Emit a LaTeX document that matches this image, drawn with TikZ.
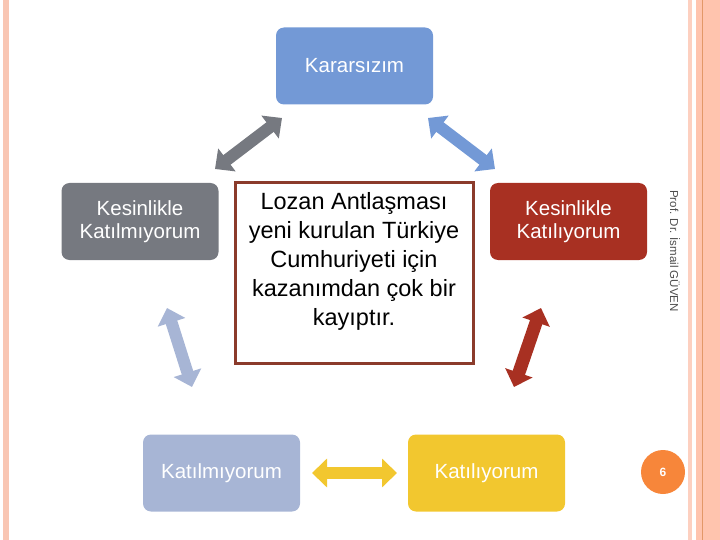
\documentclass[tikz,border=0pt]{standalone}
\usepackage{fontspec}
\setmainfont{Liberation Sans}
\usetikzlibrary{arrows.meta}
\definecolor{cblue}{HTML}{7399D6}
\definecolor{cgray}{HTML}{767980}
\definecolor{cred}{HTML}{A83022}
\definecolor{clblue}{HTML}{A7B5D5}
\definecolor{cyellow}{HTML}{F2C72F}
\definecolor{cframe}{HTML}{8B3B2B}
\definecolor{corange}{HTML}{F7863A}
\definecolor{pinkA}{HTML}{F9C6B3}
\definecolor{pinkB}{HTML}{FDD0C0}
\definecolor{pinkC}{HTML}{FFC4AE}
\definecolor{pinkLine}{HTML}{E39868}
\tikzset{
  box/.style={rounded corners=8pt, minimum width=157pt, minimum height=77pt, inner sep=0pt,
    align=center, text=white, font=\fontsize{20.5}{23.5}\selectfont},
  dbl/.style={line width=12pt, {Triangle[width=28pt,length=15pt]}-{Triangle[width=28pt,length=15pt]}},
}
\begin{document}
\begin{tikzpicture}[x=1pt,y=-1pt]
\useasboundingbox (0,0) rectangle (720,540);
% page decorations
\fill[pinkA] (3,0) rectangle (9,540);
\fill[pinkB] (688,0) rectangle (692,540);
\fill[pinkC] (696,0) rectangle (720,540);
\fill[pinkLine] (702,0) rectangle (703,540);
% boxes
\node[box, fill=cblue] (kar) at (354.5,66) {Kararsızım};
\node[box, fill=cgray] (kkm) at (140,221.5) {Kesinlikle\\Katılmıyorum};
\node[box, fill=cred] (kk) at (568.5,221.5) {Kesinlikle\\Katılıyorum};
\node[box, fill=clblue] (km) at (221.5,473) {Katılmıyorum};
\node[box, fill=cyellow] (ka) at (486.5,473) {Katılıyorum};
\node[draw=cframe, line width=3pt, fill=white, minimum width=238pt, minimum height=180pt,
  inner sep=0pt, align=center] (st) at (354,273) {};
\node[align=center, inner sep=0pt, font=\fontsize{23.5}{29}\selectfont] (sttext) at (354,261)
  {Lozan Antlaşması\\yeni kurulan Türkiye\\Cumhuriyeti için\\kazanımdan çok bir\\kayıptır.};
% arrow end points
\coordinate (g1) at (215,169);
\coordinate (g2) at (282,118);
\coordinate (b1) at (428,118);
\coordinate (b2) at (495,169);
\coordinate (l1) at (167,308);
\coordinate (l2) at (192,387);
\coordinate (r1) at (541,308);
\coordinate (r2) at (514,387);
\coordinate (y1) at (312,473);
\coordinate (y2) at (397,473);
\draw[dbl, draw=cgray, fill=cgray] (g1) -- (g2);
\draw[dbl, draw=cblue, fill=cblue] (b1) -- (b2);
\draw[dbl, draw=clblue, fill=clblue] (l1) -- (l2);
\draw[dbl, draw=cred, fill=cred, line width=13pt] (r1) -- (r2);
\draw[dbl, draw=cyellow, fill=cyellow] (y1) -- (y2);
% side text and page number
\node[rotate=-90, text=black!70, font=\fontsize{11.5}{13}\selectfont, inner sep=0pt] (auth) at (675,251) {Prof. Dr. İsmail GÜVEN};
\node[circle, fill=corange, minimum size=44pt, inner sep=0pt, text=white,
  font=\fontsize{12}{14}\selectfont\bfseries] (pg) at (663,472) {6};
\end{tikzpicture}
\end{document}
